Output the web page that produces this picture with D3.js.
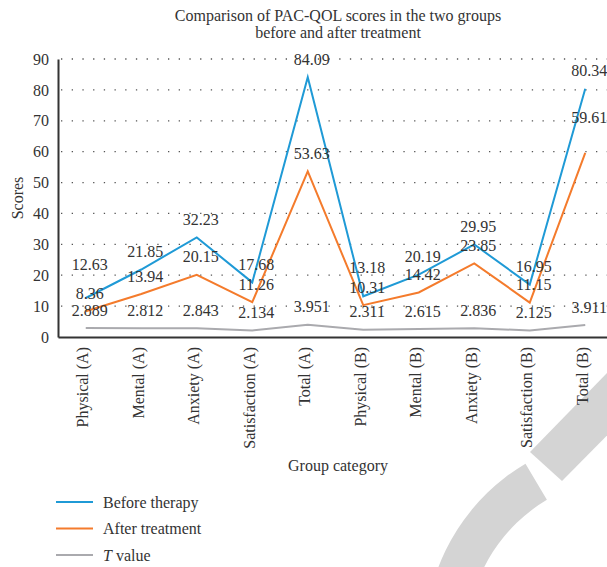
<!DOCTYPE html>
<html>
<head>
<meta charset="utf-8">
<script src="https://cdn.jsdelivr.net/npm/d3@7"></script>
<style>
body { margin: 0; background: #fff; }
text { font-family: "Liberation Serif", "Times New Roman", serif; fill: #333; }
</style>
</head>
<body>
<div id="chart"></div>
<script>
var categories = ["Physical (A)", "Mental (A)", "Anxiety (A)", "Satisfaction (A)", "Total (A)",
                  "Physical (B)", "Mental (B)", "Anxiety (B)", "Satisfaction (B)", "Total (B)"];
var beforeTherapy  = [12.63, 21.85, 32.23, 17.68, 84.09, 13.18, 20.19, 29.95, 16.95, 80.34];
var afterTreatment = [8.36, 13.94, 20.15, 11.26, 53.63, 10.31, 14.42, 23.85, 11.15, 59.61];
var tValue         = [2.889, 2.812, 2.843, 2.134, 3.951, 2.311, 2.615, 2.836, 2.125, 3.911];
var yTicks = [0, 10, 20, 30, 40, 50, 60, 70, 80, 90];
var seriesNames = ["Before therapy", "After treatment", "T value"];

var width = 607, height = 567;
var fs = "16px";

var svg = d3.select("#chart").append("svg")
  .attr("width", width)
  .attr("height", height);

// watermark in the corner
var wm = svg.append("g").attr("fill", "#d4d4d4");
wm.append("path")
  .attr("transform", "translate(630,640)")
  .attr("d", d3.arc()({innerRadius: 163, outerRadius: 205, startAngle: -2.4, endAngle: -0.535}));
wm.append("polygon")
  .attr("points", "530,452 562,481 680,362 648,331");

var x = d3.scaleBand().domain(categories).range([58, 613]);
var y = d3.scaleLinear().domain([0, 90]).range([337, 59]);
function cx(i) { return x(categories[i]) + x.bandwidth() / 2; }

// dotted grid
svg.append("g")
  .selectAll("line")
  .data(yTicks.slice(1))
  .enter()
  .append("line")
  .attr("x1", 61)
  .attr("x2", width)
  .attr("y1", function(d) { return y(d); })
  .attr("y2", function(d) { return y(d); })
  .attr("stroke", "#555")
  .attr("stroke-width", 1.3)
  .attr("stroke-dasharray", "1.3,9.4");

// axes
var yAxis = svg.append("g")
  .attr("transform", "translate(58,0)")
  .call(d3.axisLeft(y).tickValues(yTicks).tickSize(0).tickPadding(9));
yAxis.select(".domain").attr("stroke", "#333").attr("stroke-width", 2);
yAxis.selectAll("text").style("font-size", fs).attr("fill", "#333");

var xAxis = svg.append("g")
  .attr("transform", "translate(0,337)")
  .call(d3.axisBottom(x).tickSize(0).tickSizeOuter(0));
xAxis.select(".domain").attr("stroke", "#333").attr("stroke-width", 2);
xAxis.selectAll("text")
  .style("font-size", fs)
  .attr("fill", "#333")
  .attr("text-anchor", "end")
  .attr("transform", "rotate(-90)")
  .attr("x", -10)
  .attr("y", -3)
  .attr("dy", "0.35em");

// series lines
var colors = ["#1f9ad6", "#f47b2c", "#aaaaae"];
var allSeries = [beforeTherapy, afterTreatment, tValue];
var line = d3.line()
  .x(function(d, i) { return cx(i); })
  .y(function(d) { return y(d); });

svg.append("g")
  .selectAll("path")
  .data(allSeries.slice().reverse())
  .enter()
  .append("path")
  .attr("d", line)
  .attr("fill", "none")
  .attr("stroke", function(d, i) { return colors[2 - i]; })
  .attr("stroke-width", 2);

// data labels, lifted above the points (a few moved further up like the original)
var lift = {"0-0": 34, "0-5": 29, "1-9": 35};
allSeries.forEach(function(s, k) {
  svg.append("g")
    .selectAll("text")
    .data(s)
    .enter()
    .append("text")
    .attr("x", function(d, i) { return cx(i) + 4; })
    .attr("y", function(d, i) { return y(d) - (lift[k + "-" + i] || 18); })
    .attr("dy", "0.35em")
    .attr("text-anchor", "middle")
    .style("font-size", fs)
    .text(function(d) { return d; });
});

// titles
svg.append("text")
  .attr("x", 338).attr("y", 15).attr("dy", "0.35em")
  .attr("text-anchor", "middle").style("font-size", fs)
  .text("Comparison of PAC-QOL scores in the two groups");
svg.append("text")
  .attr("x", 338).attr("y", 32).attr("dy", "0.35em")
  .attr("text-anchor", "middle").style("font-size", fs)
  .text("before and after treatment");
svg.append("text")
  .attr("transform", "translate(17,198) rotate(-90)")
  .attr("dy", "0.35em")
  .attr("text-anchor", "middle").style("font-size", fs)
  .text("Scores");
svg.append("text")
  .attr("x", 338).attr("y", 465).attr("dy", "0.35em")
  .attr("text-anchor", "middle").style("font-size", fs)
  .text("Group category");

// legend
var legend = svg.append("g")
  .selectAll("g")
  .data(seriesNames)
  .enter()
  .append("g")
  .attr("transform", function(d, i) { return "translate(0," + (502 + i * 26.5) + ")"; });
legend.append("line")
  .attr("x1", 56).attr("x2", 93)
  .attr("stroke", function(d, i) { return colors[i]; })
  .attr("stroke-width", 2);
legend.append("text")
  .attr("x", 103)
  .attr("dy", "0.35em")
  .style("font-size", fs)
  .each(function(d) {
    var t = d3.select(this);
    if (d === "T value") {
      t.append("tspan").style("font-style", "italic").text("T");
      t.append("tspan").text(" value");
    } else {
      t.text(d);
    }
  });
</script>
</body>
</html>
